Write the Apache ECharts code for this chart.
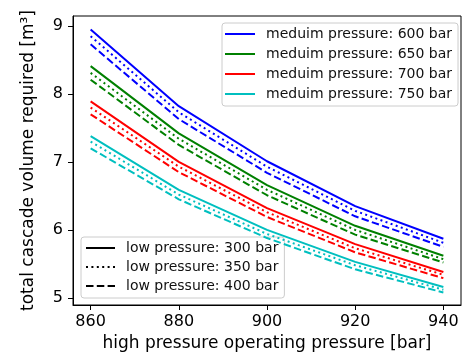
<!DOCTYPE html>
<html>
<head>
<meta charset="utf-8">
<script src="https://cdn.jsdelivr.net/npm/echarts@6/dist/echarts.min.js"></script>
<style>
html,body{margin:0;padding:0;background:#fff;}
#c{width:462px;height:360px;}
</style>
</head>
<body>
<div id="c"></div>
<script>
// ---- data ----
const xValues = [860, 880, 900, 920, 940];
const xTicks = [860, 880, 900, 920, 940];
const yTicks = [5, 6, 7, 8, 9];
const mediumLabels = ['meduim pressure: 600 bar', 'meduim pressure: 650 bar', 'meduim pressure: 700 bar', 'meduim pressure: 750 bar'];
const lowLabels = ['low pressure: 300 bar', 'low pressure: 350 bar', 'low pressure: 400 bar'];

const mp600_lp300 = [8.95, 7.82, 7.01, 6.35, 5.87];
const mp600_lp350 = [8.85, 7.73, 6.93, 6.28, 5.81];
const mp600_lp400 = [8.73, 7.63, 6.84, 6.20, 5.75];

const mp650_lp300 = [8.41, 7.42, 6.66, 6.06, 5.62];
const mp650_lp350 = [8.31, 7.34, 6.59, 6.00, 5.57];
const mp650_lp400 = [8.21, 7.25, 6.51, 5.93, 5.52];

const mp700_lp300 = [7.89, 7.00, 6.32, 5.79, 5.38];
const mp700_lp350 = [7.80, 6.93, 6.26, 5.73, 5.34];
const mp700_lp400 = [7.70, 6.85, 6.19, 5.67, 5.29];

const mp750_lp300 = [7.38, 6.59, 6.00, 5.53, 5.16];
const mp750_lp350 = [7.30, 6.52, 5.94, 5.48, 5.12];
const mp750_lp400 = [7.20, 6.45, 5.88, 5.42, 5.08];

// ---- styling ----
const colors = ['#0000ff', '#008000', '#ff0000', '#00bfbf'];
const dashTypes = ['solid', [2, 3.4], [7.5, 3.3]];
const groups = [
  [mp600_lp300, mp600_lp350, mp600_lp400],
  [mp650_lp300, mp650_lp350, mp650_lp400],
  [mp700_lp300, mp700_lp350, mp700_lp400],
  [mp750_lp300, mp750_lp350, mp750_lp400]
];
const FONT = 'DejaVu Sans';

const series = [];
groups.forEach((grp, gi) => {
  grp.forEach((vals, li) => {
    series.push({
      type: 'line',
      name: li === 0 ? mediumLabels[gi] : mediumLabels[gi] + ' / ' + lowLabels[li],
      data: xValues.map((x, i) => [x, vals[i]]),
      symbol: 'none',
      z: 10 - li,
      color: colors[gi],
      lineStyle: { color: colors[gi], width: 2, type: dashTypes[li] }
    });
  });
});
lowLabels.forEach((lbl, li) => {
  series.push({
    type: 'line',
    name: lbl,
    data: [],
    symbol: 'none',
    color: '#000',
    lineStyle: { color: '#000', width: 2, type: dashTypes[li] }
  });
});

const chart = echarts.init(document.getElementById('c'), null, { renderer: 'canvas' });
chart.setOption({
  animation: false,
  backgroundColor: '#fff',
  textStyle: { fontFamily: FONT },
  grid: {
    left: 73, right: 1, top: 16, bottom: 55,
    show: true, borderColor: '#000', borderWidth: 1,
    containLabel: false, outerBoundsMode: 'none'
  },
  xAxis: {
    type: 'value',
    min: 856, max: 944,
    name: 'high pressure operating pressure [bar]',
    nameLocation: 'middle',
    nameGap: 28,
    nameTextStyle: { fontSize: 17, color: '#000', fontFamily: FONT },
    axisLine: { show: true, lineStyle: { color: '#000', width: 1 } },
    axisTick: { show: true, length: 5, customValues: xTicks, lineStyle: { color: '#000' } },
    axisLabel: { customValues: xTicks, fontSize: 16, color: '#000', margin: 9, fontFamily: FONT },
    splitLine: { show: false }
  },
  yAxis: {
    type: 'value',
    min: 4.895, max: 9.147,
    name: 'total cascade volume required [m³]',
    nameLocation: 'middle',
    nameGap: 36,
    nameRotate: 90,
    nameTextStyle: { fontSize: 17, color: '#000', fontFamily: FONT },
    axisLine: { show: true, lineStyle: { color: '#000', width: 1 } },
    axisTick: { show: true, length: 5, customValues: yTicks, lineStyle: { color: '#000' } },
    axisLabel: { customValues: yTicks, fontSize: 16, color: '#000', margin: 10, fontFamily: FONT },
    splitLine: { show: false }
  },
  legend: [
    {
      data: mediumLabels,
      orient: 'vertical',
      left: 222, top: 23,
      itemWidth: 30, itemHeight: 14, itemGap: 6,
      padding: [4, 6, 5, 2],
      backgroundColor: 'rgba(255,255,255,0.8)',
      borderColor: '#cccccc', borderWidth: 1, borderRadius: 3,
      itemStyle: { opacity: 0 },
      textStyle: { fontSize: 14, color: '#111', fontFamily: FONT, padding: [0, 0, 0, 6] },
      selectedMode: false
    },
    {
      data: lowLabels,
      orient: 'vertical',
      left: 81, top: 237,
      itemWidth: 29, itemHeight: 14, itemGap: 5,
      padding: [4, 6, 5, 4],
      backgroundColor: 'rgba(255,255,255,0.8)',
      borderColor: '#cccccc', borderWidth: 1, borderRadius: 3,
      itemStyle: { opacity: 0 },
      textStyle: { fontSize: 14, color: '#111', fontFamily: FONT, padding: [0, 0, 0, 6] },
      selectedMode: false
    }
  ],
  series: series
});
</script>
</body>
</html>
